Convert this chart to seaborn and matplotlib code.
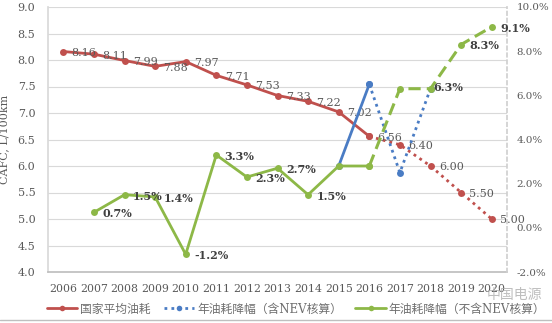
import numpy as np
import pandas as pd
import matplotlib
matplotlib.use("Agg")
import matplotlib.pyplot as plt
import seaborn as sns
from matplotlib.lines import Line2D

sns.set_theme(style="white")
plt.rcParams['font.family'] = ['DejaVu Serif', 'Noto Sans CJK SC']

years = [2006, 2007, 2008, 2009, 2010, 2011, 2012, 2013, 2014, 2015, 2016, 2017, 2018, 2019, 2020]
cafc = [8.16, 8.11, 7.99, 7.88, 7.97, 7.71, 7.53, 7.33, 7.22, 7.02, 6.56, 6.40, 6.00, 5.50, 5.00]
cafc_labels = ["8.16", "8.11", "7.99", "7.88", "7.97", "7.71", "7.53", "7.33", "7.22", "7.02",
               "6.56", "6.40", "6.00", "5.50", "5.00"]
# 年油耗降幅（不含NEV核算）, % ; None = no value
excl_nev = [None, 0.7, 1.5, 1.4, -1.2, 3.3, 2.3, 2.7, 1.5, 2.8, 2.8, 6.3, 6.3, 8.3, 9.1]
excl_labels = ["", "0.7%", "1.5%", "1.4%", "-1.2%", "3.3%", "2.3%", "2.7%", "1.5%", "", "", "", "6.3%", "8.3%", "9.1%"]
# 年油耗降幅（含NEV核算）, %
incl_nev = [None, None, None, None, None, None, None, None, None, 2.8, 6.5, 2.5, 6.3, None, None]

legend_names = ["国家平均油耗", "年油耗降幅（含NEV核算）", "年油耗降幅（不含NEV核算）"]

RED = "#C0504D"
BLUE = "#4A7CC4"
GREEN = "#8DB847"
GRAY_TXT = "#595959"

idx = list(range(len(years)))

fig = plt.figure(figsize=(5.52, 3.23), dpi=100)
ax1 = fig.add_axes([48/552, 1-272/323, (507-48)/552, (272-7)/323])
ax2 = ax1.twinx()

def seg(values, i0, i1):
    d = pd.DataFrame({"x": idx[i0:i1+1], "y": values[i0:i1+1]}).dropna()
    return d

lw = 2.0
ms = 5.0
# red: national average consumption
sns.lineplot(data=seg(cafc, 0, 10), x="x", y="y", ax=ax1, color=RED, lw=lw,
             marker="o", markersize=ms, markeredgewidth=0, legend=False)
sns.lineplot(data=seg(cafc, 10, 14), x="x", y="y", ax=ax1, color=RED, lw=lw,
             linestyle=(0, (1, 1.5)), marker="o", markersize=ms, markeredgewidth=0, legend=False)

# blue: including NEV
sns.lineplot(data=seg(incl_nev, 9, 10), x="x", y="y", ax=ax2, color=BLUE, lw=lw,
             marker="o", markersize=ms, markeredgewidth=0, legend=False)
sns.lineplot(data=seg(incl_nev, 10, 12), x="x", y="y", ax=ax2, color=BLUE, lw=lw,
             linestyle=(0, (1, 1.5)), marker="o", markersize=ms, markeredgewidth=0, legend=False)

# green: excluding NEV
sns.lineplot(data=seg(excl_nev, 1, 10), x="x", y="y", ax=ax2, color=GREEN, lw=lw,
             marker="o", markersize=ms, markeredgewidth=0, legend=False)
sns.lineplot(data=seg(excl_nev, 10, 14), x="x", y="y", ax=ax2, color=GREEN, lw=2.2,
             linestyle=(0, (4, 2)), marker="o", markersize=ms, markeredgewidth=0, legend=False)

# data labels
for i, (v, t) in enumerate(zip(cafc, cafc_labels)):
    ax1.annotate(t, (i, v), xytext=(6, -1), textcoords="offset points", ha="left", va="center",
                 fontsize=8, color=GRAY_TXT, family="DejaVu Serif")
for i, (v, t) in enumerate(zip(excl_nev, excl_labels)):
    if v is not None and t:
        dx = 2 if i == 12 else 6
        dy = 1 if i == 12 else -1
        ax2.annotate(t, (i, v), xytext=(dx, dy), textcoords="offset points", ha="left", va="center",
                     fontsize=8, color="#404040", family="DejaVu Serif", fontweight="bold")

# axes formatting
ax1.set_xlim(-0.5, 14.5)
ax1.set_ylim(4.0, 9.0)
ax2.set_ylim(-2, 10)
ax1.set_yticks(np.arange(4.0, 9.01, 0.5))
ax1.set_yticklabels([f"{v:.1f}" for v in np.arange(4.0, 9.01, 0.5)])
ax2.set_yticks(np.arange(-2, 10.01, 2))
ax2.set_yticklabels([f"{v:.1f}%" for v in np.arange(-2, 10.01, 2)])
ax1.set_xticks(idx)
ax1.set_xticklabels([str(y) for y in years])
ax1.set_xticks(np.arange(-0.5, 14.6, 1), minor=True)

ax1.grid(True, axis="y", color="#D9D9D9", lw=0.8)
ax1.set_axisbelow(True)
ax2.grid(False)
ax1.set_xlabel("")
ax1.set_ylabel("CAFC, L/100km", fontsize=8, color=GRAY_TXT, family="DejaVu Serif", labelpad=6)
ax2.set_ylabel("")

ax1.tick_params(axis="y", length=0, pad=9, labelsize=8, labelcolor=GRAY_TXT)
ax1.tick_params(axis="x", which="major", length=0, pad=9, labelsize=7.8, labelcolor=GRAY_TXT)
ax1.tick_params(axis="x", which="minor", length=4, color="#BFBFBF", width=0.8, direction="out")
ax2.tick_params(axis="y", length=0, pad=7, labelsize=7.4, labelcolor=GRAY_TXT)

for ax in (ax1, ax2):
    for s in ax.spines.values():
        s.set_visible(False)
ax1.spines["bottom"].set_visible(True)
ax1.spines["bottom"].set_color("#BFBFBF")
ax1.spines["left"].set_visible(True)
ax1.spines["left"].set_color("#D9D9D9")
ax2.spines["right"].set_visible(True)
ax2.spines["right"].set_color("#D0D0D0")
ax2.spines["right"].set_linestyle((0, (2, 2)))

# legend
handles = [
    Line2D([], [], color=RED, lw=lw, marker="o", markersize=4, markeredgewidth=0),
    Line2D([], [], color=BLUE, lw=lw, linestyle=(0, (1, 1.5)), marker="o", markersize=4, markeredgewidth=0),
    Line2D([], [], color=GREEN, lw=lw, marker="o", markersize=4, markeredgewidth=0),
]
leg = fig.legend(handles, legend_names, loc="center", bbox_to_anchor=(296/552, 1-309/323), ncol=3,
                 frameon=False, handlelength=2.6, handletextpad=0.25, columnspacing=1.1,
                 prop={"family": ["DejaVu Serif", "Noto Sans CJK SC"], "size": 8.5})
for t in leg.get_texts():
    t.set_color("#6E6E6E")

# watermark
fig.text(514/552, 1-295/323, "中国电源", fontsize=10, color="#A8A8A8", ha="center", va="center",
         family=["Noto Sans CJK SC"], alpha=0.75)

# bottom border line
fig.add_artist(Line2D([0, 1], [1-320/323, 1-320/323], transform=fig.transFigure, color="#BFBFBF", lw=1))

fig.savefig("out.png", dpi=100)
